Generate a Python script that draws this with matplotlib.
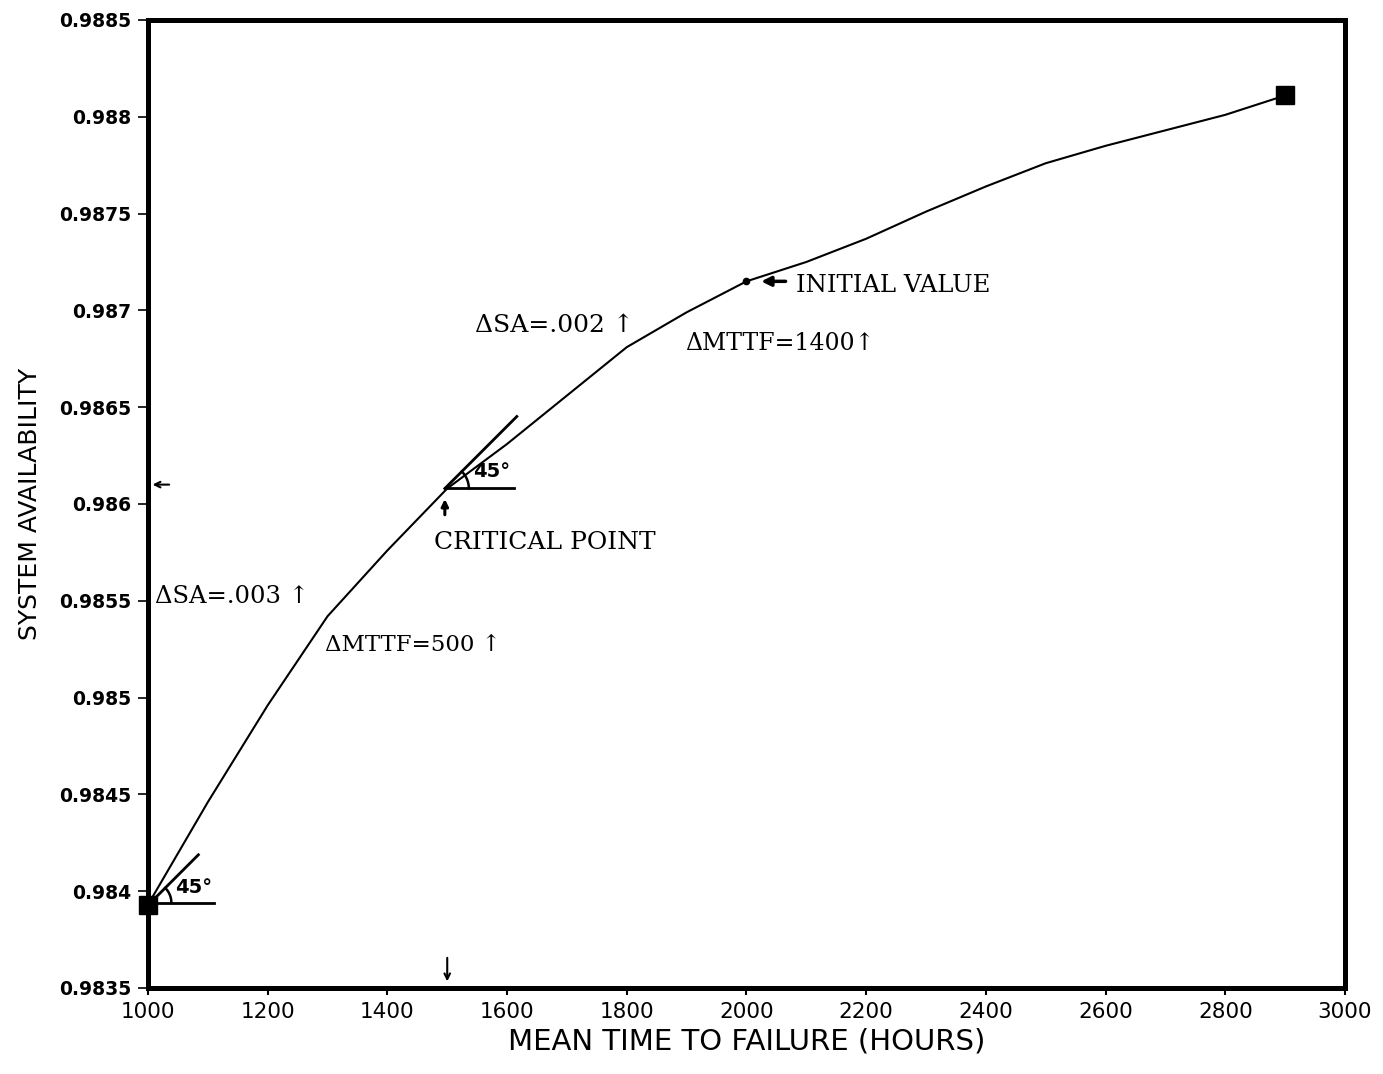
import numpy as np
import matplotlib.pyplot as plt

# MTTF (hours) vs system availability
mttf = [1000, 1100, 1200, 1300, 1400, 1500, 1600, 1700, 1800, 1900,
        2000, 2100, 2200, 2300, 2400, 2500, 2600, 2700, 2800, 2900]
avail = [0.98393, 0.98446, 0.98496, 0.98542, 0.98576, 0.98608, 0.98631,
         0.98656, 0.98681, 0.98699, 0.98715, 0.98725, 0.98737, 0.98751,
         0.98764, 0.98776, 0.98785, 0.98793, 0.98801, 0.98811]

# end points of the range and the two marked points
end_x = [1000, 2900]
end_y = [0.98393, 0.98811]
crit_x, crit_y = 1496, 0.98608
init_x, init_y = 2000, 0.98715

xticks = [1000, 1200, 1400, 1600, 1800, 2000, 2200, 2400, 2600, 2800, 3000]
yticks = [0.9835, 0.984, 0.9845, 0.985, 0.9855, 0.986, 0.9865, 0.987,
          0.9875, 0.988, 0.9885]
ytick_labels = ["0.9835", "0.984", "0.9845", "0.985", "0.9855", "0.986",
                "0.9865", "0.987", "0.9875", "0.988", "0.9885"]

serif = ["DejaVu Serif", "DejaVu Sans"]

fig = plt.figure(figsize=(13.83, 10.74), dpi=100)
ax = fig.add_axes([0.107, 0.0801, 0.8655, 0.9013])

ax.plot(mttf, avail, color="black", lw=1.5)
ax.plot(end_x, end_y, "s", color="black", ms=13, clip_on=False, zorder=5)
ax.plot([init_x], [init_y], "o", color="black", ms=4.5)

ax.set_xlim(1000, 3000)
ax.set_ylim(0.9835, 0.9885)

# units per pixel, so 45 degree lines and arcs look right on screen
ux = 2000 / 1197.0
uy = 0.005 / 968.0

def angle_mark(x0, y0, length, flat, r, lx, ly):
    ax.plot([x0, x0 + length * ux], [y0, y0 + length * uy], color="black", lw=2)
    ax.plot([x0, x0 + flat * ux], [y0, y0], color="black", lw=2)
    t = np.linspace(0, np.pi / 4, 30)
    ax.plot(x0 + r * ux * np.cos(t), y0 + r * uy * np.sin(t), color="black", lw=1.8)
    ax.text(lx, ly, "45\u00b0", fontsize=14, fontweight="bold", family="DejaVu Sans",
            ha="left", va="center")

angle_mark(1004, 0.98394, 48, 64, 21, 1045, 0.98402)
angle_mark(crit_x, crit_y, 72, 69, 24, 1543, 0.98617)

# labels
ax.text(2082, 0.98713, "INITIAL VALUE", fontsize=17.5, family=serif,
        ha="left", va="center")
ax.annotate("", xy=(2020, init_y), xytext=(2070, init_y),
            arrowprops=dict(arrowstyle="-|>", lw=2.5, color="black",
                            mutation_scale=14))
ax.text(1546, 0.98692, "\u0394SA=.002 \u2191", fontsize=18, family=serif,
        ha="left", va="center")
ax.text(1897, 0.98683, "\u0394MTTF=1400\u2191", fontsize=17, family=serif,
        ha="left", va="center")
ax.text(1478, 0.98580, "CRITICAL POINT", fontsize=18, family=serif,
        ha="left", va="center")
ax.annotate("", xy=(crit_x, 0.98604), xytext=(crit_x, 0.98593),
            arrowprops=dict(arrowstyle="-|>", lw=2.2, color="black",
                            mutation_scale=10))
ax.text(1012, 0.98552, "\u0394SA=.003 \u2191", fontsize=17.5, family=serif,
        ha="left", va="center")
ax.text(1296, 0.98527, "\u0394MTTF=500 \u2191", fontsize=16.5, family=serif,
        ha="left", va="center")

# small pointers onto the axes
ax.annotate("", xy=(1003, 0.98610), xytext=(1040, 0.98610),
            arrowprops=dict(arrowstyle="->", lw=1.5, color="black"))
ax.annotate("", xy=(1500, 0.98352), xytext=(1500, 0.98367),
            arrowprops=dict(arrowstyle="->", lw=1.5, color="black"))

for s in ax.spines.values():
    s.set_linewidth(3.6)

ax.set_xticks(xticks)
ax.set_yticks(yticks)
ax.set_yticklabels(ytick_labels)
ax.tick_params(axis="y", direction="out", length=7, width=1.2, pad=5,
               labelsize=13.5)
ax.tick_params(axis="x", direction="out", length=5, width=1.5, pad=5,
               labelsize=15.5)
for lab in ax.get_yticklabels():
    lab.set_fontweight("bold")

ax.set_xlabel("MEAN TIME TO FAILURE (HOURS)", fontsize=21, labelpad=4)
ax.set_ylabel("SYSTEM AVAILABILITY", fontsize=18, labelpad=12)

plt.savefig("out.png", dpi=100)
